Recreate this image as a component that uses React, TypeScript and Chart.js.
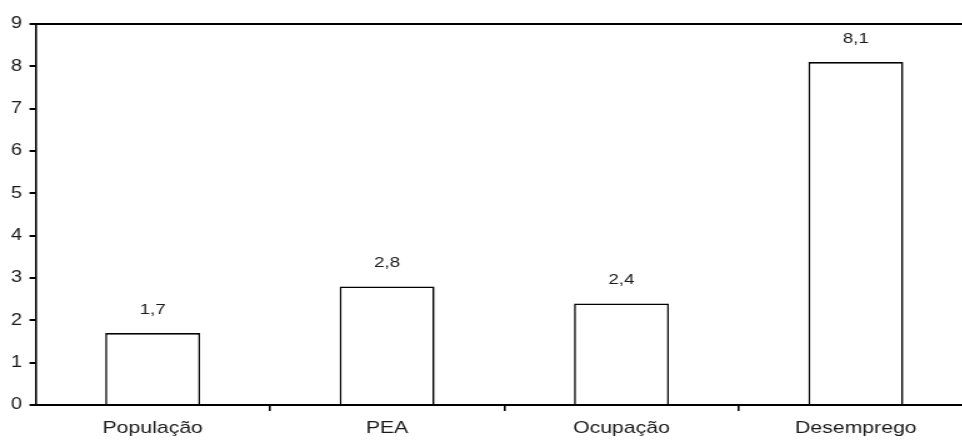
import React, { useEffect, useRef } from "react";
import { Chart, registerables } from "chart.js";

Chart.register(...registerables);

const categories = ["População", "PEA", "Ocupação", "Desemprego"];
const values = [1.7, 2.8, 2.4, 8.1];
const valueLabels = ["1,7", "2,8", "2,4", "8,1"];
const yMin = 0;
const yMax = 9;
const yStep = 1;

const FONT = "'Liberation Sans', Arial, sans-serif";
const STRETCH = 1.25;
const CANVAS_W = 800;
const CANVAS_H = 440;

const valueLabelPlugin = {
  id: "valueLabels",
  afterDatasetsDraw(chart: any) {
    const ctx = chart.ctx;
    const meta = chart.getDatasetMeta(0);
    ctx.save();
    ctx.font = `15px ${FONT}`;
    ctx.fillStyle = "#1a1a1a";
    ctx.textAlign = "center";
    ctx.textBaseline = "alphabetic";
    meta.data.forEach((bar: any, i: number) => {
      ctx.fillText(valueLabels[i], bar.x, bar.y - 19);
    });
    ctx.restore();
  },
};

const topLinePlugin = {
  id: "topLine",
  afterDraw(chart: any) {
    const { ctx, chartArea } = chart;
    ctx.save();
    ctx.strokeStyle = "#000";
    ctx.lineWidth = 2;
    ctx.beginPath();
    ctx.moveTo(chartArea.left, chartArea.top);
    ctx.lineTo(chartArea.right, chartArea.top);
    ctx.stroke();
    ctx.restore();
  },
};

export default function App() {
  const ref = useRef<HTMLCanvasElement | null>(null);

  useEffect(() => {
    if (!ref.current) return;
    const chart = new Chart(ref.current, {
      type: "bar",
      data: {
        labels: categories,
        datasets: [
          {
            data: values,
            backgroundColor: "#ffffff",
            borderColor: "#000000",
            borderWidth: 1.6,
            barPercentage: 0.405,
            categoryPercentage: 1,
          },
        ],
      },
      options: {
        responsive: false,
        animation: false,
        devicePixelRatio: 1,
        layout: { padding: { top: 24, right: CANVAS_W - 778.4, left: 0, bottom: 0 } },
        plugins: {
          legend: { display: false },
          tooltip: { enabled: false },
        },
        scales: {
          x: {
            afterFit(scale: any) {
              scale.height = 35;
            },
            grid: {
              offset: true,
              drawOnChartArea: false,
              drawTicks: true,
              tickLength: 6,
              lineWidth: 1.6,
              color: (c: any) => (c.index === 0 ? "rgba(0,0,0,0)" : "#000"),
            },
            border: { display: true, color: "#000", width: 2 },
            ticks: {
              color: "#1a1a1a",
              font: { family: FONT, size: 17 },
              padding: 7,
              maxRotation: 0,
              autoSkip: false,
            },
          },
          y: {
            min: yMin,
            max: yMax,
            afterFit(scale: any) {
              scale.width = 28.4;
            },
            grid: {
              drawOnChartArea: false,
              drawTicks: true,
              tickLength: 4.8,
              lineWidth: 2,
              color: "#000",
            },
            border: { display: true, color: "#000", width: 1.6 },
            ticks: {
              stepSize: yStep,
              color: "#1a1a1a",
              font: { family: FONT, size: 16 },
              padding: 6,
              callback: (v: any) => String(v),
            },
          },
        },
      },
      plugins: [valueLabelPlugin, topLinePlugin],
    });
    return () => chart.destroy();
  }, []);

  return (
    <div
      style={{
        position: "absolute",
        left: 0,
        top: 0,
        width: 962,
        height: 440,
        overflow: "hidden",
        background: "#fff",
      }}
    >
      <div style={{ transform: `scaleX(${STRETCH})`, transformOrigin: "0 0", width: CANVAS_W, height: CANVAS_H }}>
        <canvas
          ref={ref}
          width={CANVAS_W}
          height={CANVAS_H}
          style={{ width: CANVAS_W, height: CANVAS_H, display: "block" }}
        />
      </div>
    </div>
  );
}
